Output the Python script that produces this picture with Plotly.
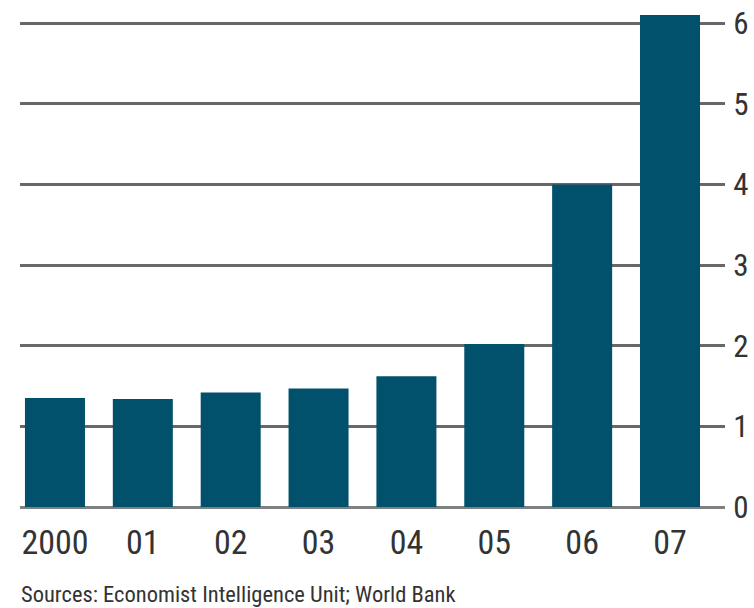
import plotly.graph_objects as go

years = ["2000", "01", "02", "03", "04", "05", "06", "07"]
values = [1.35, 1.34, 1.42, 1.47, 1.62, 2.02, 4.0, 6.1]
y_ticks = [0, 1, 2, 3, 4, 5, 6]
source = "Sources: Economist Intelligence Unit; World Bank"

FONT = "Roboto Condensed, Liberation Sans, sans-serif"

fig = go.Figure(go.Bar(
    x=list(range(len(years))), y=values,
    marker=dict(color="#02516c", line=dict(width=0)),
    width=0.683,
))

fig.update_layout(
    width=754, height=608,
    margin=dict(l=20, r=29, t=15, b=101),
    paper_bgcolor="white", plot_bgcolor="white",
    showlegend=False,
    font=dict(family=FONT, size=34, color="#333333"),
    xaxis=dict(
        range=[-0.398, 7.626], automargin=False,
        tickmode="array", tickvals=list(range(len(years))), ticktext=years,
        showgrid=False, showline=False, zeroline=False,
        ticks="outside", ticklen=5, tickcolor="rgba(0,0,0,0)",
        tickfont=dict(family=FONT, size=34, color="#333333"),
    ),
    yaxis=dict(
        side="right", range=[0, 6.1], automargin=False,
        tickmode="array", tickvals=y_ticks,
        ticklabeloverflow="allow",
        showgrid=True, gridcolor="#686868", gridwidth=3,
        zeroline=True, zerolinecolor="#808080", zerolinewidth=3,
        showline=False,
        ticks="outside", ticklen=1, tickcolor="rgba(0,0,0,0)",
        tickfont=dict(family=FONT, size=31, color="#333333"),
    ),
    annotations=[dict(
        text=source, xref="paper", yref="paper",
        x=0, y=-0.177, xanchor="left", yanchor="middle",
        showarrow=False, xshift=-1,
        font=dict(family=FONT, size=22.5, color="#333333"),
    )],
)

# remove the default 8px page margin so the 754x608 figure fills the window
fig.write_html("out.html", config={"displayModeBar": False},
               post_script="document.body.style.margin='0';")
